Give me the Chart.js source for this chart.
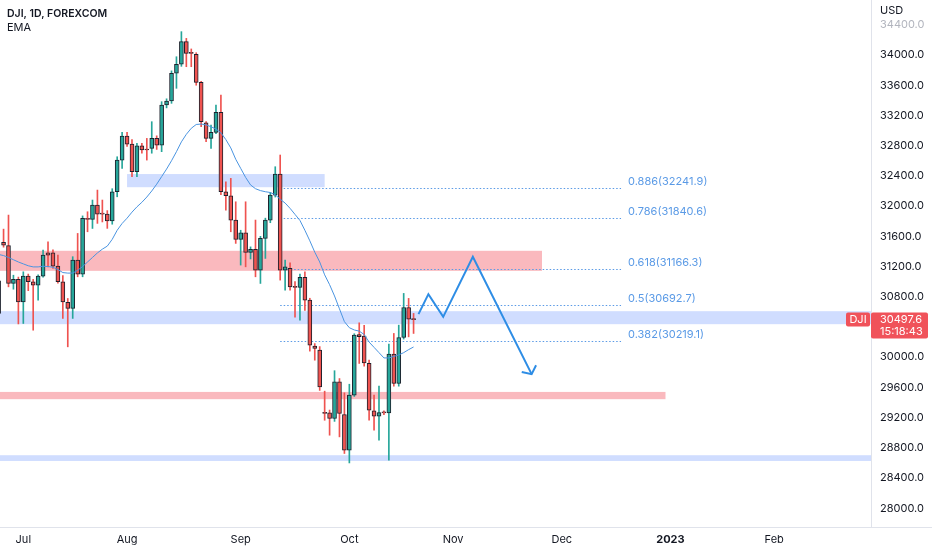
<!DOCTYPE html>
<html>
<head>
<meta charset="utf-8">
<title>DJI, 1D, FOREXCOM</title>
<script src="https://cdn.jsdelivr.net/npm/chart.js@4.4.1/dist/chart.umd.min.js"></script>
<style>
  html, body { margin: 0; padding: 0; background: #ffffff; }
  canvas { display: block; }
</style>
</head>
<body>
<canvas id="chart" width="932" height="550"></canvas>
<script>
// daily bars, index 0 = 1 Jul 2022 (weekday count)
const firstBar = -5;

const opens = [
  30580, 31519, 31476, 30976, 31029, 30733, 31072, 30998, 30953, 31072,
  31380, 31380, 31205, 30998, 30725, 30645, 31285, 31099, 31837, 31824,
  32013, 31900, 31894, 31805, 32190, 32609, 32927, 32821, 32455, 32799,
  32750, 32764, 32896, 32808, 33338, 33391, 33758, 33877, 34176, 34030,
  34009, 33638, 33103, 32896, 32976, 33241, 32190, 32137, 31815, 31559,
  31647, 31387, 31427, 31152, 31572, 31815, 32146, 32424, 31152, 31175,
  30930, 30923, 31056, 30755, 30146, 30093, 29262, 29262, 29188, 29673,
  29241, 28768, 29497, 30300, 30278, 29917, 29289, 29219, 29265, 29262,
  30040, 29652, 30261, 30658, 30510
];
const highs = [
  31040, 31695, 31881, 31085, 31060, 31130, 31100, 31030, 31090, 31417,
  31528, 31420, 31351, 31080, 30777, 31330, 31638, 31870, 31925, 32080,
  32212, 32080, 31940, 32230, 32653, 32976, 32976, 32880, 32830, 32830,
  32896, 33117, 32930, 33382, 33420, 33790, 33977, 34309, 34220, 34080,
  34030, 33650, 33117, 33073, 33338, 33470, 32322, 32367, 32057, 31680,
  32057, 31460, 31815, 31600, 31840, 32180, 32521, 32676, 31285, 31250,
  31000, 31100, 31130, 30780, 30180, 30140, 29550, 29300, 29821, 29717,
  29528, 29642, 30310, 30455, 30420, 29960, 29497, 29616, 29290, 30172,
  30314, 30424, 30844, 30778, 30579
];
const lows = [
  30560, 31456, 30931, 30900, 30440, 30446, 30880, 30357, 30755, 31060,
  31196, 31175, 30980, 30513, 30137, 30513, 31064, 31064, 31660, 31704,
  31771, 31790, 31705, 31760, 32123, 32499, 32790, 32388, 32388, 32700,
  32609, 32700, 32750, 32720, 33300, 33360, 33559, 33850, 33845, 33845,
  33600, 33050, 32852, 32764, 32960, 32150, 31947, 31660, 31506, 31219,
  31196, 31300, 31064, 30976, 31307, 31780, 32120, 31020, 30887, 30887,
  30530, 30490, 30620, 30080, 29960, 29560, 29165, 28967, 29150, 28945,
  28725, 28600, 29480, 29917, 29880, 29166, 29033, 28900, 29240, 28636,
  29616, 29616, 30240, 30269, 30314
];
const closes = [
  31010, 31483, 30976, 31029, 30733, 31072, 30998, 30953, 31072, 31351,
  31351, 31205, 30998, 30733, 30645, 31285, 31099, 31837, 31824, 32013,
  31894, 31894, 31805, 32190, 32609, 32927, 32821, 32455, 32799, 32742,
  32742, 32896, 32808, 33338, 33391, 33758, 33877, 34176, 34022, 34022,
  33638, 33117, 32896, 32976, 33241, 32190, 32137, 31815, 31559, 31647,
  31387, 31427, 31152, 31572, 31815, 32146, 32424, 31152, 31196, 30931,
  30923, 31056, 30755, 30159, 30115, 29607, 29257, 29188, 29673, 29254,
  28768, 29497, 30291, 30270, 29925, 29298, 29219, 29267, 29262, 30040,
  29652, 30261, 30658, 30503, 30497.6
];
const emaValues = [
  31360, 31345, 31320, 31290, 31260, 31235, 31210, 31195, 31195, 31203,
  31200, 31190, 31160, 31120, 31113, 31113, 31150, 31200, 31260, 31320,
  31380, 31430, 31470, 31560, 31680, 31770, 31840, 31920, 31990, 32050,
  32120, 32200, 32290, 32390, 32490, 32600, 32720, 32850, 32950, 33030,
  33080, 33086, 33075, 33050, 33020, 32970, 32880, 32770, 32620, 32500,
  32380, 32280, 32230, 32205, 32190, 32180, 32150, 32090, 32040, 31970,
  31890, 31810, 31680, 31540, 31390, 31260, 31090, 30960, 30810, 30640,
  30470, 30390, 30360, 30345, 30300, 30200, 30130, 30060, 29990, 29990,
  30010, 30030, 30060, 30100, 30135
];

const monthTicks = [0, 21, 44, 66, 87, 109, 131, 152];
const monthLabels = ['Jul', 'Aug', 'Sep', 'Oct', 'Nov', 'Dec', '2023', 'Feb'];
const priceTicks = [28000, 28400, 28800, 29200, 29600, 30000, 30400, 30800,
  31200, 31600, 32000, 32400, 32800, 33200, 33600, 34000, 34400];

// supply / demand boxes
const zoneFrom = [21, -5, -5, -5, -5];
const zoneTo = [61, 105, 175, 130, 175];
const zoneHigh = [32424, 31408, 30609, 29540, 28702];
const zoneLow = [32250, 31143, 30437, 29444, 28626];
const zoneKind = ['demand', 'supply', 'demand', 'supply', 'demand'];

// fib retracement
const fibFrom = 52;
const fibTo = 121;
const fibLevels = ['0.886', '0.786', '0.618', '0.5', '0.382'];
const fibPrices = [32241.9, 31840.6, 31166.3, 30692.7, 30219.1];

// projected path
const pathX = [80, 82, 85, 91, 102.9];
const pathY = [30570, 30834, 30534, 31328, 29775];
const arrowX = [100.9, 102.9, 103.8];
const arrowY = [29805, 29775, 29894];

const lastPrice = 30497.6;
const countdown = '15:18:43';

const FONT = 'Inter, "Liberation Sans", sans-serif';
const UP = '#26a69a';
const DOWN = '#ef5350';
const TEXT = '#131722';
const AXIS = '#e0e3eb';

const bars = opens.map((o, k) => firstBar + k);
const isUp = opens.map((o, k) => closes[k] >= o);

// no extra padding around the plot, the axes sit flush like the original
function flush(s) {
  s.paddingTop = 0;
  s.paddingBottom = 0;
  s.paddingLeft = 0;
  s.paddingRight = 0;
}

const overlay = {
  id: 'overlay',
  beforeDatasetsDraw(chart) {
    const { ctx, scales: { x, y }, chartArea } = chart;
    ctx.save();
    ctx.beginPath();
    ctx.rect(chartArea.left, chartArea.top, chartArea.width, chartArea.height);
    ctx.clip();
    zoneHigh.forEach((hi, k) => {
      const x0 = x.getPixelForValue(zoneFrom[k]);
      const x1 = x.getPixelForValue(zoneTo[k]);
      const y0 = y.getPixelForValue(hi);
      const y1 = y.getPixelForValue(zoneLow[k]);
      ctx.fillStyle = zoneKind[k] === 'supply' ? 'rgba(242,54,69,0.35)' : 'rgba(41,98,255,0.22)';
      ctx.fillRect(x0, y0, x1 - x0, y1 - y0);
    });
    ctx.strokeStyle = '#5a9ae6';
    ctx.lineWidth = 1;
    ctx.setLineDash([1.5, 2]);
    ctx.fillStyle = '#5a9ae6';
    ctx.font = '11px ' + FONT;
    ctx.textBaseline = 'alphabetic';
    const fx0 = x.getPixelForValue(fibFrom);
    const fx1 = x.getPixelForValue(fibTo);
    fibPrices.forEach((p, k) => {
      const py = Math.round(y.getPixelForValue(p)) + 0.5;
      ctx.beginPath();
      ctx.moveTo(fx0, py);
      ctx.lineTo(fx1, py);
      ctx.stroke();
      ctx.fillText(fibLevels[k] + '(' + p.toFixed(1) + ')', fx1 + 7, py - 4);
    });
    ctx.restore();
  },
  afterDraw(chart) {
    const { ctx, scales: { y }, chartArea } = chart;
    ctx.save();
    ctx.fillStyle = TEXT;
    ctx.textBaseline = 'middle';
    ctx.font = '600 10.5px ' + FONT;
    ctx.fillText('DJI, 1D, FOREXCOM', 7, 14);
    ctx.font = '11px ' + FONT;
    ctx.fillText('EMA', 7, 28);
    ctx.fillText('USD', chartArea.right + 9, 11);

    ctx.strokeStyle = AXIS;
    ctx.beginPath();
    ctx.moveTo(chartArea.right, chartArea.bottom + 0.5);
    ctx.lineTo(chart.width, chartArea.bottom + 0.5);
    ctx.stroke();

    const py = y.getPixelForValue(lastPrice);
    ctx.fillStyle = '#f0525a';
    ctx.beginPath();
    ctx.roundRect(chartArea.right - 25, py - 7, 24, 14, 2);
    ctx.fill();
    ctx.beginPath();
    ctx.roundRect(chartArea.right, py - 7, 57, 26, 2);
    ctx.fill();
    ctx.fillStyle = '#ffffff';
    ctx.textAlign = 'center';
    ctx.fillText('DJI', chartArea.right - 13, py + 0.5);
    ctx.textAlign = 'left';
    ctx.fillText(lastPrice.toFixed(1), chartArea.right + 9, py + 0.5);
    ctx.fillText(countdown, chartArea.right + 9, py + 12);
    ctx.restore();
  }
};

new Chart(document.getElementById('chart'), {
  type: 'bar',
  data: {
    datasets: [
      {
        type: 'line',
        label: 'Path',
        data: pathX.map((v, k) => ({ x: v, y: pathY[k] })),
        borderColor: '#2e8de5',
        borderWidth: 2,
        pointRadius: 0,
        order: 0
      },
      {
        type: 'line',
        label: 'Arrow',
        data: arrowX.map((v, k) => ({ x: v, y: arrowY[k] })),
        borderColor: '#2e8de5',
        borderWidth: 2,
        pointRadius: 0,
        order: 0
      },
      {
        type: 'line',
        label: 'EMA',
        data: emaValues.map((v, k) => ({ x: bars[k], y: v })),
        borderColor: '#4a94e0',
        borderWidth: 1,
        pointRadius: 0,
        order: 1
      },
      {
        label: 'Body',
        data: bars.map((b, k) => ({ x: b, y: [opens[k], closes[k]] })),
        backgroundColor: isUp.map(u => u ? UP : DOWN),
        borderColor: '#1e222d',
        borderWidth: 1,
        borderSkipped: false,
        barThickness: 4,
        minBarLength: 1,
        grouped: false,
        order: 2
      },
      {
        label: 'Wick',
        data: bars.map((b, k) => ({ x: b, y: [lows[k], highs[k]] })),
        backgroundColor: isUp.map(u => u ? UP : DOWN),
        barThickness: 1,
        grouped: false,
        order: 3
      }
    ]
  },
  options: {
    responsive: false,
    animation: false,
    layout: { padding: 0 },
    plugins: { legend: { display: false }, tooltip: { enabled: false } },
    scales: {
      x: {
        type: 'linear',
        min: -4.72,
        max: 171.6,
        offset: false,
        grid: { display: false, drawTicks: false, offset: false },
        border: { display: true, color: AXIS },
        afterBuildTicks: s => { s.ticks = monthTicks.map(v => ({ value: v })); },
        afterFit: s => { s.height = 23; flush(s); },
        ticks: {
          autoSkip: false,
          maxRotation: 0,
          padding: 6,
          color: TEXT,
          font: c => ({ family: FONT, size: 11, weight: monthLabels[monthTicks.indexOf(c.tick && c.tick.value)] === '2023' ? 'bold' : 'normal' }),
          callback: v => monthLabels[monthTicks.indexOf(v)]
        }
      },
      y: {
        position: 'right',
        min: 27752,
        max: 34728,
        grid: { display: false, drawTicks: false },
        border: { display: true, color: AXIS },
        afterBuildTicks: s => { s.ticks = priceTicks.map(v => ({ value: v })); },
        afterFit: s => { s.width = 61; flush(s); },
        ticks: {
          padding: 9,
          color: c => (c.tick && c.tick.value === 34400) ? '#b2b5be' : TEXT,
          font: { family: FONT, size: 11 },
          callback: v => v.toFixed(1)
        }
      }
    }
  },
  plugins: [overlay]
});
</script>
</body>
</html>
